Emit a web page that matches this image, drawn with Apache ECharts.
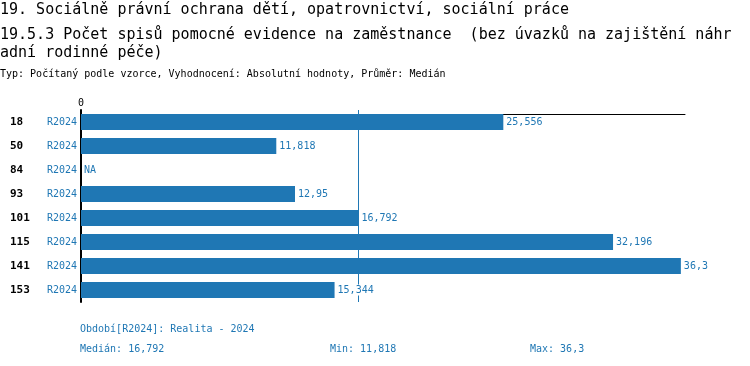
<!DOCTYPE html>
<html><head><meta charset="utf-8">
<script src="https://cdn.jsdelivr.net/npm/echarts@6/dist/echarts.min.js"></script>
<style>html,body{margin:0;padding:0;background:#fff}#c{width:750px;height:366px}</style>
</head><body><div id="c"></div>
<script>
const titleLine1 = '19. Sociálně právní ochrana dětí, opatrovnictví, sociální práce';
const titleLine2 = '19.5.3 Počet spisů pomocné evidence na zaměstnance  (bez úvazků na zajištění náhr\nadní rodinné péče)';
const subtitle = 'Typ: Počítaný podle vzorce, Vyhodnocení: Absolutní hodnoty, Průměr: Medián';
const categories = ['18', '50', '84', '93', '101', '115', '141', '153'];
const periodLabel = 'R2024';
const values = [25.556, 11.818, null, 12.95, 16.792, 32.196, 36.3, 15.344];
const periodNote = 'Období[R2024]: Realita - 2024';

const BLUE = '#1f77b4';
const MONO = '"DejaVu Sans Mono", "Liberation Mono", monospace';
const fmt = v => (v === null || v === undefined) ? 'NA' : String(v).replace('.', ',');
const valid = values.filter(v => v !== null).sort((a, b) => a - b);
const median = valid.length % 2 ? valid[(valid.length - 1) / 2] : (valid[valid.length / 2 - 1] + valid[valid.length / 2]) / 2;
const vmin = valid[0], vmax = valid[valid.length - 1];

const chart = echarts.init(document.getElementById('c'), null, {renderer: 'canvas'});
chart.setOption({
  animation: false,
  textStyle: {fontFamily: MONO},
  title: [
    {text: titleLine1, left: 0, top: 1, padding: 0, textStyle: {fontFamily: MONO, fontSize: 15, fontWeight: 'normal', color: '#000', lineHeight: 18}},
    {text: titleLine2, left: 0, top: 26, padding: 0, textStyle: {fontFamily: MONO, fontSize: 15, fontWeight: 'normal', color: '#000', lineHeight: 18}},
    {text: subtitle, left: 0, top: 69, padding: 0, textStyle: {fontFamily: MONO, fontSize: 10, fontWeight: 'normal', color: '#000'}},
    {text: periodNote, left: 80, top: 324, padding: 0, textStyle: {fontFamily: MONO, fontSize: 10, fontWeight: 'normal', color: BLUE}},
    {text: 'Medián: ' + fmt(median), left: 80, top: 344, padding: 0, textStyle: {fontFamily: MONO, fontSize: 10, fontWeight: 'normal', color: BLUE}},
    {text: 'Min: ' + fmt(vmin), left: 330, top: 344, padding: 0, textStyle: {fontFamily: MONO, fontSize: 10, fontWeight: 'normal', color: BLUE}},
    {text: 'Max: ' + fmt(vmax), left: 530, top: 344, padding: 0, textStyle: {fontFamily: MONO, fontSize: 10, fontWeight: 'normal', color: BLUE}}
  ],
  grid: {left: 81, right: 65, top: 110, height: 192, containLabel: false},
  xAxis: {
    type: 'value', position: 'top', min: 0, max: 36.55, offset: -4,
    axisLine: {show: true, lineStyle: {color: '#000', width: 1}},
    axisTick: {show: false},
    splitLine: {show: false},
    axisLabel: {show: true, margin: 6, fontFamily: MONO, fontSize: 10, color: '#000',
      formatter: v => v === 0 ? '0' : ''}
  },
  yAxis: {
    type: 'category', data: categories, inverse: true,
    axisLine: {show: true, lineStyle: {color: '#000', width: 2}},
    axisTick: {show: false},
    axisLabel: {
      margin: 4,
      formatter: c => '{a|' + c + '}{b|' + periodLabel + '}',
      rich: {
        a: {fontFamily: MONO, fontSize: 11, fontWeight: 'bold', color: '#000', width: 37, align: 'left'},
        b: {fontFamily: MONO, fontSize: 10, color: BLUE}
      }
    }
  },
  series: [{
    type: 'bar',
    barWidth: 16,
    data: values.map(v => v === null ? {value: 0, na: true} : v),
    itemStyle: {color: BLUE},
    label: {
      show: true, position: 'right', distance: 3,
      fontFamily: MONO, fontSize: 10, color: BLUE, backgroundColor: '#fff', padding: [1, 0, 0, 0],
      formatter: p => fmt(values[p.dataIndex])
    },
    z: 2,
    markLine: {
      silent: true, symbol: 'none', z: 1,
      label: {show: false},
      lineStyle: {color: BLUE, width: 1, type: 'solid'},
      data: [{xAxis: median}]
    }
  }]
});
</script></body></html>
